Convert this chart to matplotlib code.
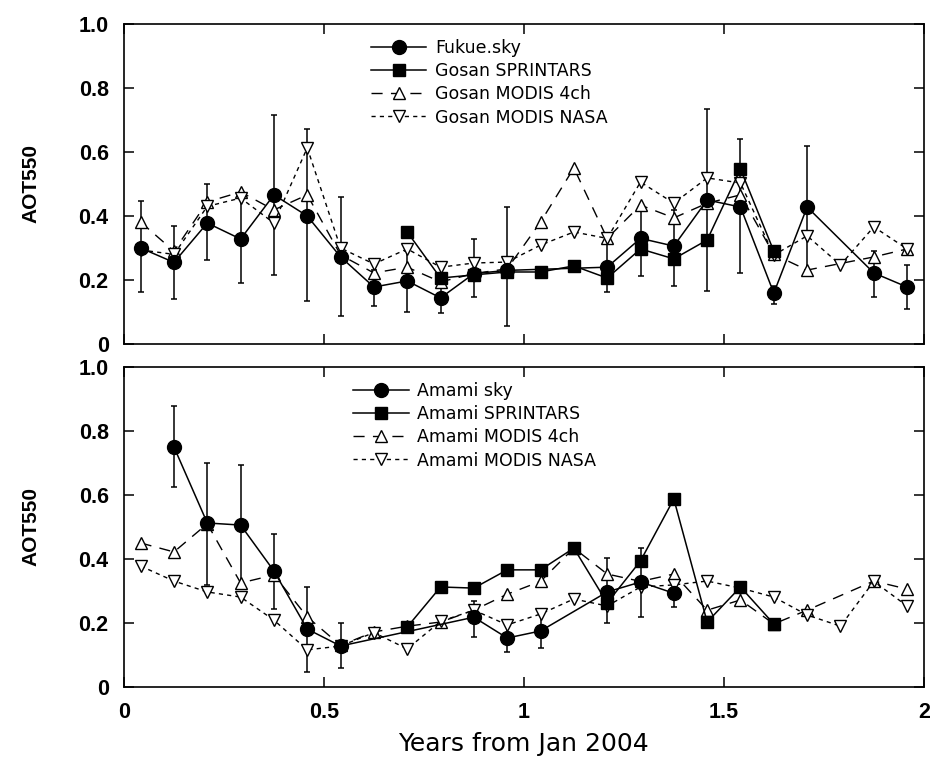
import matplotlib
matplotlib.use('Agg')
import matplotlib.pyplot as plt
from matplotlib.font_manager import FontProperties

# month index -> years from Jan 2004 (mid-month)
def yrs(months):
    return [(m + 0.5) / 12 for m in months]

# ---- top panel: Fukue / Gosan ----
fukue_m = [0, 1, 2, 3, 4, 5, 6, 7, 8, 9, 10, 11, 14, 15, 16, 17, 18, 19, 20, 22, 23]
fukue_v = [0.30, 0.255, 0.378, 0.328, 0.466, 0.40, 0.272, 0.178, 0.197, 0.144, 0.22, 0.23,
           0.24, 0.33, 0.306, 0.45, 0.428, 0.159, 0.428, 0.222, 0.178]
fukue_hi = [0.447, 0.369, 0.50, 0.472, 0.716, 0.672, 0.46, 0.23, 0.29, 0.20, 0.328, 0.428,
            0.33, 0.42, 0.42, 0.734, 0.64, 0.18, 0.62, 0.29, 0.247]
fukue_lo = [0.162, 0.14, 0.262, 0.19, 0.216, 0.134, 0.088, 0.119, 0.10, 0.097, 0.147, 0.056,
            0.163, 0.213, 0.181, 0.166, 0.222, 0.125, 0.23, 0.147, 0.109]

gosan_spr_m = list(range(8, 20))
gosan_spr_v = [0.35, 0.206, 0.216, 0.225, 0.225, 0.244, 0.206, 0.297, 0.266, 0.325, 0.547, 0.29]

gosan_4ch_m = list(range(0, 21)) + [22, 23]
gosan_4ch_v = [0.381, 0.29, 0.444, 0.475, 0.419, 0.466, 0.278, 0.222, 0.24, 0.194, 0.22, 0.235,
               0.381, 0.55, 0.33, 0.434, 0.394, 0.44, 0.466, 0.28, 0.231, 0.272, 0.297]

gosan_nasa_m = list(range(0, 24))
gosan_nasa_v = [0.294, 0.28, 0.43, 0.456, 0.378, 0.613, 0.30, 0.25, 0.297, 0.24, 0.253, 0.256,
                0.309, 0.35, 0.33, 0.506, 0.44, 0.519, 0.503, 0.278, 0.338, 0.247, 0.366, 0.297]

# ---- bottom panel: Amami ----
amami_m = [1, 2, 3, 4, 5, 6, 10, 11, 12, 14, 15, 16]
amami_v = [0.75, 0.5125, 0.506, 0.3625, 0.181, 0.128, 0.218, 0.153, 0.175, 0.297, 0.328, 0.293]
amami_hi = [0.878, 0.70, 0.694, 0.478, 0.312, 0.20, 0.27, 0.20, 0.23, 0.403, 0.434, 0.32]
amami_lo = [0.625, 0.32, 0.319, 0.244, 0.047, 0.059, 0.156, 0.11, 0.122, 0.20, 0.219, 0.25]

amami_spr_m = list(range(8, 20))
amami_spr_v = [0.1875, 0.3125, 0.309, 0.366, 0.366, 0.434, 0.2625, 0.394, 0.5875, 0.203, 0.3125, 0.197]

amami_4ch_m = list(range(0, 21)) + [22, 23]
amami_4ch_v = [0.45, 0.422, 0.51, 0.325, 0.35, 0.219, 0.13, 0.172, 0.19, 0.203, 0.24, 0.29,
               0.33, 0.434, 0.353, 0.33, 0.353, 0.24, 0.272, 0.197, 0.24, 0.331, 0.306]

amami_nasa_m = list(range(0, 24))
amami_nasa_v = [0.378, 0.331, 0.297, 0.281, 0.209, 0.116, 0.128, 0.17, 0.119, 0.205, 0.24, 0.194,
                0.228, 0.275, 0.253, 0.3125, 0.319, 0.331, 0.309, 0.281, 0.225, 0.19, 0.33, 0.253]

top_labels = ['Fukue.sky', 'Gosan SPRINTARS', 'Gosan MODIS 4ch', 'Gosan MODIS NASA']
bot_labels = ['Amami sky', 'Amami SPRINTARS', 'Amami MODIS 4ch', 'Amami MODIS NASA']

yticks = [0, 0.2, 0.4, 0.6, 0.8, 1.0]
ytick_labels = ['0', '0.2', '0.4', '0.6', '0.8', '1.0']
xticks = [0, 0.5, 1, 1.5, 2]
xtick_labels = ['0', '0.5', '1', '1.5', '2']

tick_font = FontProperties(family=['Liberation Sans', 'DejaVu Sans'], weight='bold', size=15.5)
ylab_font = FontProperties(family=['Liberation Sans Narrow', 'Liberation Sans'], weight='bold', size=15)
legend_font = FontProperties(family='DejaVu Sans', size=12.5)


def draw_panel(ax, sky, spr, ch4, nasa, labels):
    m, v, hi, lo = sky
    x = yrs(m)
    err = [[a - b for a, b in zip(v, lo)], [b - a for a, b in zip(v, hi)]]
    ax.errorbar(x, v, yerr=err, fmt='none', ecolor='black', elinewidth=1.1,
                capsize=2.5, capthick=1.1, zorder=2)
    ax.plot(x, v, '-', color='black', lw=1.1, marker='o', ms=10,
            mfc='black', mec='black', label=labels[0], zorder=5)
    ax.plot(yrs(spr[0]), spr[1], '-', color='black', lw=1.1, marker='s', ms=9,
            mfc='black', mec='black', label=labels[1], zorder=4)
    ax.plot(yrs(ch4[0]), ch4[1], color='black', lw=1.0, ls=(0, (8, 6)), marker='^',
            ms=9, mfc='white', mec='black', mew=1.0, label=labels[2], zorder=3)
    ax.plot(yrs(nasa[0]), nasa[1], color='black', lw=1.0, ls=(0, (3, 3)), marker='v',
            ms=9, mfc='white', mec='black', mew=1.0, label=labels[3], zorder=3)

    ax.set_xlim(0, 2)
    ax.set_ylim(0, 1.0)
    ax.set_yticks(yticks, ytick_labels, fontproperties=tick_font)
    ax.tick_params(direction='in', length=7, width=1.1, top=True, right=True, pad=11)
    for s in ax.spines.values():
        s.set_linewidth(1.2)
    ax.set_ylabel('AOT550', fontproperties=ylab_font)
    ax.yaxis.set_label_coords(-0.105, 0.5)


fig = plt.figure(figsize=(9.3, 7.57), dpi=100)
ax1 = fig.add_axes([0.1333, 0.5456, 0.860, 0.4227])
ax2 = fig.add_axes([0.1333, 0.0925, 0.860, 0.4227])

draw_panel(ax1, (fukue_m, fukue_v, fukue_hi, fukue_lo), (gosan_spr_m, gosan_spr_v),
           (gosan_4ch_m, gosan_4ch_v), (gosan_nasa_m, gosan_nasa_v), top_labels)
draw_panel(ax2, (amami_m, amami_v, amami_hi, amami_lo), (amami_spr_m, amami_spr_v),
           (amami_4ch_m, amami_4ch_v), (amami_nasa_m, amami_nasa_v), bot_labels)

ax1.set_xticks(xticks, [])
ax2.set_xticks(xticks, xtick_labels, fontproperties=tick_font)
ax2.set_xlabel('Years from Jan 2004', fontsize=18, family='DejaVu Sans', labelpad=6)

ax1.legend(loc='upper left', bbox_to_anchor=(0.300, 0.975), frameon=False, prop=legend_font,
           handlelength=3.2, handletextpad=0.5, labelspacing=0.3, borderaxespad=0)
ax2.legend(loc='upper left', bbox_to_anchor=(0.278, 0.975), frameon=False, prop=legend_font,
           handlelength=3.2, handletextpad=0.5, labelspacing=0.3, borderaxespad=0)

fig.savefig('out.png', dpi=100)
